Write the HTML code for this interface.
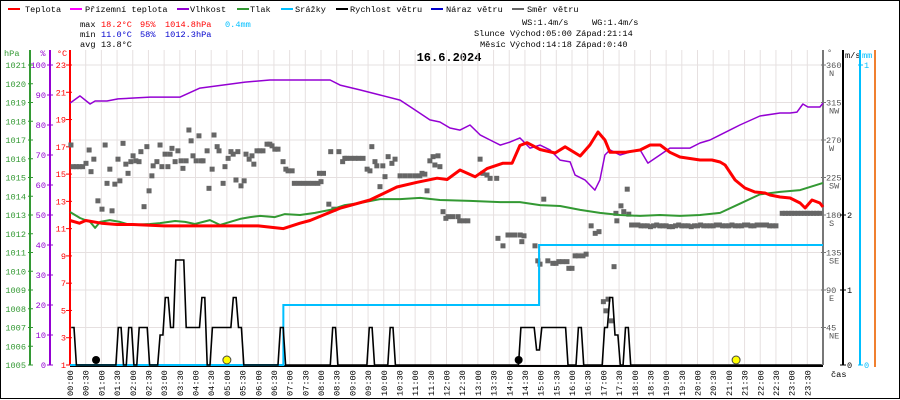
<!DOCTYPE html>
<html><head><meta charset="utf-8"><style>
html,body{margin:0;padding:0;background:#fff}
svg{display:block;font-family:"Liberation Mono",monospace}
</style></head><body>
<svg id="c" width="900" height="400" viewBox="0 0 900 400">
<rect x="0.5" y="0.5" width="899" height="398" fill="#fff" stroke="#000"/>
<g font-size="8.6">
<g><rect x="8" y="8" width="12" height="2" fill="#f00"/><text x="25" y="12">Teplota</text></g>
<g><rect x="70" y="8" width="12" height="2" fill="#f0f"/><text x="85" y="12">Přízemní teplota</text></g>
<g><rect x="177" y="8" width="12" height="2" fill="#9400d3"/><text x="190" y="12">Vlhkost</text></g>
<g><rect x="237" y="8" width="12" height="2" fill="#339933"/><text x="250" y="12">Tlak</text></g>
<g><rect x="281" y="8" width="12" height="2" fill="#00bfff"/><text x="295" y="12">Srážky</text></g>
<g><rect x="336" y="8" width="12" height="2" fill="#000"/><text x="350" y="12">Rychlost větru</text></g>
<g><rect x="431" y="8" width="12" height="2" fill="#0000cd"/><text x="446" y="12">Náraz větru</text></g>
<g><rect x="512" y="8" width="12" height="2" fill="#666"/><text x="527" y="12">Směr větru</text></g>
</g>
<g font-size="8.6">
<text x="80" y="27">max</text><text x="101" y="27" fill="#f00">18.2°C</text><text x="140" y="27" fill="#f00">95%</text><text x="165" y="27" fill="#f00">1014.8hPa</text><text x="225" y="27" fill="#00bfff">0.4mm</text>
<text x="80" y="37">min</text><text x="101" y="37" fill="#0000cd">11.0°C</text><text x="140" y="37" fill="#0000cd">58%</text><text x="165" y="37" fill="#0000cd">1012.3hPa</text>
<text x="80" y="47">avg</text><text x="101" y="47">13.8°C</text>
<text x="522" y="25">WS:1.4m/s</text><text x="592" y="25">WG:1.4m/s</text>
<text x="474" y="36">Slunce</text><text x="510" y="36">Východ:05:00</text><text x="576" y="36">Západ:21:14</text>
<text x="480" y="47">Měsíc</text><text x="510" y="47">Východ:14:18</text><text x="576" y="47">Západ:0:40</text>
</g>
<text x="449" y="61" font-size="12" font-weight="bold" text-anchor="middle">16.6.2024</text>
<g id="grid"></g><g id="axes"></g><g id="series"></g>
</svg>
<script>
// ---------- data ----------
const tempT=[0,0.3,0.5,1.0,1.5,2.0,3.0,4.0,5.0,6.0,6.8,7.33,7.65,7.97,8.61,9.56,10.42,11.06,11.7,12.02,12.43,12.91,13.29,13.8,14.09,14.34,14.57,14.98,15.46,15.78,16.26,16.57,16.83,17.05,17.21,17.69,18.17,18.49,18.81,19.12,19.44,20.08,20.46,20.72,20.88,21.2,21.51,21.83,22.15,22.31,22.63,22.95,23.27,23.43,23.65,23.9,24];
const tempV=[11.6,11.4,11.6,11.4,11.3,11.3,11.2,11.2,11.2,11.2,11.0,11.4,11.6,11.9,12.5,13.1,14.05,14.4,14.7,14.6,15.3,14.8,15.4,15.8,15.8,17.1,17.3,16.8,16.55,17.0,16.33,17.13,18.09,17.5,16.6,16.6,16.77,17.13,17.13,16.6,16.25,16.03,16.03,15.89,15.67,14.57,13.98,13.69,13.61,13.47,13.32,13.25,12.88,12.51,13.1,12.88,12.59];
const humT=[0,0.32,0.64,0.8,1.18,1.53,2.55,3.51,4.14,5.58,6.37,8.29,8.61,9.24,9.88,10.52,11.0,11.47,11.79,12.11,12.43,12.75,13.07,13.39,13.71,14.02,14.34,14.66,14.98,15.3,15.62,15.94,16.1,16.41,16.73,16.89,17.05,17.21,17.53,17.85,18.17,18.42,18.8,19.12,19.76,20.08,20.4,20.72,21.35,21.99,22.63,22.95,23.17,23.36,23.52,23.9,24];
const humV=[87.3,89.7,87.0,88.0,88.0,88.7,89.3,89.3,92.3,94.3,95,95,93.3,91.7,90,88.3,85,81.7,81,79,78.3,80,76.7,75,73.3,74.3,75.7,72.3,73.3,71.7,68.3,67.7,63.3,61.7,58.3,61.7,70,71.7,70,71,71.7,67.3,70,72.3,72.3,74,75,76.7,80,83,84,84,84.3,87,86,86,87.3];
const presT=[0,0.32,0.64,0.8,0.96,1.27,1.59,1.91,2.55,2.87,3.35,3.67,3.98,4.46,4.78,5.1,5.42,5.74,6.06,6.53,6.85,7.33,7.81,8.29,8.76,9.24,9.88,10.52,11.16,11.79,12.75,13.71,14.34,14.98,15.62,16.26,16.89,17.53,18.17,18.8,19.44,20.08,20.72,21.35,21.99,22.63,23.27,24];
const presV=[1013.16,1012.84,1012.63,1012.31,1012.63,1012.73,1012.63,1012.47,1012.52,1012.57,1012.68,1012.63,1012.52,1012.73,1012.47,1012.63,1012.79,1012.89,1012.95,1012.89,1013.05,1013.0,1013.11,1013.27,1013.53,1013.64,1013.85,1013.85,1013.91,1013.8,1013.75,1013.69,1013.69,1013.53,1013.48,1013.27,1013.11,1013.0,1012.95,1013.0,1012.95,1013.0,1013.11,1013.6,1014.1,1014.23,1014.33,1014.71];
const rainT=[0,6.8,14.95,24];
const rainV=[0,0.2,0.4,0.4];
const windV=[0.5,0,0,0,0,0,0,0,0,0.5,0,0.5,
0,0.5,0.5,0,0,0.4,0.9,0.5,1.4,1.4,0.5,0.5,
0.5,0.9,0,0.5,0.5,0.5,0.5,0.9,0.5,0,0,0,
0,0,0,0,0.5,0,0,0,0,0,0,0,
0,0,0.5,0,0,0,0,0,0,0.5,0,0,
0,0.5,0,0,0,0,0,0,0,0,0,0,
0,0,0,0,0,0,0,0,0,0,0,0,
0,0,0.5,0.5,0.5,0.2,0.5,0.5,0.5,0.5,0.5,0,
0,0.5,0,0,0,0,0.5,0.9,0.4,0,0.5,0,
0,0,0,0,0,0,0,0,0,0,0,0,
0,0,0,0,0,0,0,0,0,0,0,0,
0,0,0,0,0,0,0,0,0,0,0,0];
const dirT=[0.03,0.1,0.2,0.3,0.4,0.51,0.61,0.67,0.76,0.89,1.02,1.12,1.18,1.27,1.34,1.43,1.53,1.59,1.69,1.78,1.85,1.94,2.01,2.10,2.20,2.26,2.36,2.45,2.52,2.61,2.65,2.77,2.87,2.93,3.03,3.12,3.19,3.25,3.35,3.44,3.54,3.60,3.70,3.79,3.86,3.92,4.02,4.11,4.18,4.24,4.37,4.43,4.53,4.59,4.69,4.75,4.88,4.94,5.04,5.13,5.20,5.29,5.35,5.45,5.55,5.61,5.71,5.80,5.86,5.96,6.05,6.15,6.28,6.37,6.44,6.53,6.63,6.79,6.88,6.95,7.08,7.15,7.3,7.45,7.6,7.75,7.9,7.95,8.0,8.08,8.25,8.31,8.41,8.57,8.69,8.76,8.82,8.95,9.08,9.2,9.34,9.47,9.56,9.62,9.72,9.78,9.88,9.97,10.04,10.14,10.26,10.36,10.52,10.68,10.84,11.0,11.15,11.22,11.31,11.38,11.47,11.57,11.63,11.73,11.79,11.89,11.98,12.05,12.2,12.37,12.42,12.55,12.68,13.07,13.16,13.29,13.39,13.6,13.64,13.80,13.96,14.1,14.18,14.35,14.4,14.47,14.82,14.91,14.98,15.1,15.23,15.39,15.49,15.58,15.7,15.84,15.9,16.0,16.1,16.2,16.35,16.45,16.61,16.74,16.86,17.0,17.08,17.15,17.25,17.34,17.4,17.43,17.56,17.65,17.76,17.81,
17.9,18.0,18.1,18.2,18.3,18.4,18.5,18.6,18.7,18.8,
18.9,19.0,19.1,19.2,19.3,19.4,19.5,19.6,19.7,19.8,
19.9,20.0,20.1,20.2,20.3,20.4,20.5,20.6,20.7,20.8,
20.9,21.0,21.1,21.2,21.3,21.4,21.5,21.6,21.7,21.8,
21.9,22.0,22.1,22.2,22.3,22.4,22.5,
22.7,22.8,22.9,23.0,23.1,23.2,23.3,23.4,23.5,23.6,23.7,23.8,23.9];
const dirV=[264,238,238,238,238,242,258,232,247,197,187,264,218,235,185,217,247,221,266,241,230,244,251,245,244,256,190,262,209,227,239,244,264,238,253,238,253,260,244,257,245,236,245,282,269,251,245,275,245,245,257,212,235,276,262,257,218,238,248,256,253,222,256,215,221,253,247,251,241,257,257,257,265,265,263,259,259,244,235,233,233,218,218,218,218,218,218,230,220,230,193,256,187,256,244,248,248,248,248,248,248,235,233,262,244,239,214,239,226,250,242,247,227,227,227,227,227,230,229,209,245,250,240,251,238,184,176,178,178,178,173,173,173,247,230,228,224,224,152,143,156,156,156,156,148,155,143,125,121,199,125,122,122,124,124,124,116,116,131,131,131,133,167,158,160,76,65,79,53,118,182,173,191,184,211,181,
168,168,168,167,167,167,166,167,168,167,
167,167,166,166,167,168,167,167,167,166,
167,167,168,167,167,167,167,168,168,167,
167,167,168,167,167,167,168,168,167,167,
168,168,168,168,167,167,167,
182,182,182,182,182,182,182,182,182,182,182,182,182];
const sunT=[5.0,21.23];
const moonT=[0.83,14.3];
const hpaTicks=[1005,1006,1007,1008,1009,1010,1011,1012,1013,1014,1015,1016,1017,1018,1019,1020,1021];
const humTicks=[0,10,20,30,40,50,60,70,80,90,100];
const tTicks=[1,3,5,7,9,11,13,15,17,19,21,23];
const dirTicks=[45,90,135,180,225,270,315,360];
const dirNames=["NE","E","SE","S","SW","W","NW","N"];
const timeTicks=["00:00","00:30","01:00","01:30","02:00","02:30","03:00","03:30","04:00","04:30","05:00","05:30","06:00","06:30","07:00","07:30","08:00","08:30","09:00","09:30","10:00","10:30","11:00","11:30","12:00","12:30","13:00","13:30","14:00","14:30","15:00","15:30","16:00","16:30","17:00","17:30","18:00","18:30","19:00","19:30","20:00","20:30","21:00","21:30","22:00","22:30","23:00","23:30"];

// ---------- scales ----------
const X0=70,X1=823,Y0=365,Y1=65;
const X=h=>X0+h*(X1-X0)/24;
const YT=t=>Y0-(t-1)*(Y0-Y1)/22;
const YH=p=>Y0-p*(Y0-Y1)/100;
const YP=p=>Y0-(p-1005)*(Y0-Y1)/16;
const YW=v=>Y0-v*75;
const YD=d=>Y0-d*(Y0-Y1)/360;
const YR=m=>Y0-m*(Y0-Y1);
const NS="http://www.w3.org/2000/svg";
const FS=8.6;
function mk(tag,attrs,parent){const e=document.createElementNS(NS,tag);for(const k in attrs)e.setAttribute(k,attrs[k]);parent.appendChild(e);return e;}
const grid=document.getElementById('grid'),axes=document.getElementById('axes'),ser=document.getElementById('series');

for(let k=0;k<=48;k++){const x=X(k/2);const l=mk('line',{x1:x,x2:x,y1:50,y2:Y0,stroke:'#e6e0e0','stroke-width':1},grid);

}
for(let p=1005;p<=1021;p+=2){const y=YP(p);const l=mk('line',{x1:X0,x2:X1,y1:y,y2:y,stroke:'#e6e0e0','stroke-width':1},grid);

}

function axisLine(x,color,name,y2){const l=mk('line',{x1:x,x2:x,y1:50,y2:y2||Y0,stroke:color,'stroke-width':2},axes);

}
function label(x,y,txt,color,anchor,name){const t=mk('text',{x:x,y:y,fill:color,'font-size':FS,'text-anchor':anchor},axes);t.textContent=txt;

return t;}
function tick(x1,x2,y,color){mk('line',{x1:x1,x2:x2,y1:y,y2:y,stroke:color,'stroke-width':1},axes);}

axisLine(30,'#339933','hpa-axis');axisLine(50,'#9400d3','humidity-axis');axisLine(70,'#f00','temperature-axis');
label(4,56,'hPa','#339933','start','hpa-axis-title');
label(43,56,'%','#9400d3','middle','humidity-axis-title');
label(62,56,'°C','#f00','middle','temperature-axis-title');
hpaTicks.forEach(p=>{const y=YP(p);tick(28,33,y,'#339933');label(26,y+3,String(p),'#339933','end','hpa-tick-label');});
humTicks.forEach(p=>{const y=YH(p);tick(47,53,y,'#9400d3');label(46,y+3,String(p),'#9400d3','end','humidity-tick-label');});
tTicks.forEach(t=>{const y=YT(t);tick(66,72,y,'#f00');label(66,y+3,String(t),'#f00','end','temperature-tick-label');});

axisLine(823,'#777','wind-direction-axis');
label(827,55,'°','#555','start','wind-direction-axis-title');
dirTicks.forEach((d,i)=>{const y=YD(d);tick(821,826,y,'#777');label(826,y+3,String(d),'#555','start','direction-tick-label');label(829,y+11,dirNames[i],'#555','start','direction-name-label');});
axisLine(843,'#000','wind-speed-axis');
label(845,58,'m/s','#000','start','wind-speed-axis-title');
[0,1,2].forEach(v=>{const y=YW(v);tick(840,846,y,'#000');label(847,y+3,String(v),'#000','start','wind-speed-tick-label');});
axisLine(860,'#00bfff','rain-axis');
label(862,58,'mm','#00bfff','start','rain-axis-title');
[0,1].forEach(v=>{const y=YR(v);tick(858,863,y,'#00bfff');label(864,y+3,String(v),'#00bfff','start','rain-tick-label');});
axisLine(875,'#f08030','gust-axis',367);

const xa=mk('line',{x1:X0,x2:X1,y1:Y0+1,y2:Y0+1,stroke:'#000','stroke-width':2},axes);


timeTicks.forEach((s,k)=>{const x=X(k/2);
const t=mk('text',{x:0,y:0,'font-size':FS,fill:'#000',transform:`translate(${x+3},396) rotate(-90)`},axes);t.textContent=s;

});
label(831,377,'čas','#000','start','x-axis-title');

function poly(ts,vs,fy,color,w,name){const pts=ts.map((t,i)=>X(t).toFixed(1)+','+fy(vs[i]).toFixed(1)).join(' ');
const p=mk('polyline',{points:pts,fill:'none',stroke:color,'stroke-width':w,'stroke-linejoin':'round'},ser);

}

dirT.forEach((t,i)=>{if(dirV[i]===undefined)return;const r=mk('rect',{x:X(t)-2.5,y:YD(dirV[i])-2.5,width:5,height:5,fill:'#666'},ser);

});

{let pts=[];rainT.forEach((t,i)=>{if(i>0)pts.push(X(t)+','+YR(rainV[i-1]).toFixed(1));pts.push(X(t)+','+YR(rainV[i]).toFixed(1));});
const p=mk('polyline',{points:pts.join(' '),fill:'none',stroke:'#00bfff','stroke-width':2},ser);

}

poly(presT,presV,YP,'#339933',2,'pressure-line');
poly(humT,humV,YH,'#9400d3',1.5,'humidity-line');
poly(tempT,tempV,YT,'#f00',3,'temperature-line');

{const pts=[];const d=1/6;windV.forEach((v,i)=>{const a=X(i*d)+1.2,b=X((i+1)*d)-1.2;pts.push(a.toFixed(1)+','+YW(v).toFixed(1));pts.push(b.toFixed(1)+','+YW(v).toFixed(1));});
const p=mk('polyline',{points:pts.join(' '),fill:'none',stroke:'#000','stroke-width':1.6},ser);

}

sunT.forEach(t=>{const c=mk('circle',{cx:X(t),cy:360,r:4,fill:'#ff0',stroke:'#444','stroke-width':1},ser);

});
moonT.forEach(t=>{const c=mk('circle',{cx:X(t),cy:360,r:4,fill:'#000'},ser);

});
</script>
</body></html>
